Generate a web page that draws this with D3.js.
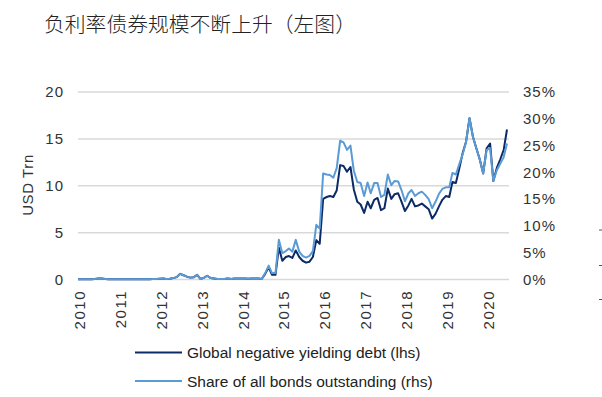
<!DOCTYPE html>
<html>
<head>
<meta charset="utf-8">
<script src="https://cdn.jsdelivr.net/npm/d3@7/dist/d3.min.js"></script>
<style>
  body { margin: 0; background: #fff; }
  svg { display: block; font-family: "Liberation Sans", Arial, sans-serif; }
</style>
</head>
<body>
<svg id="chart" width="602" height="397"></svg>
<script>
// monthly, Jan 2010 .. Jul 2020
const startMonth = new Date(2010, 0, 1);

// Global negative yielding debt, USD trn (lhs)
const debt = [
  0.02, 0.02, 0.02, 0.02, 0.03, 0.05, 0.12, 0.10, 0.05, 0.03, 0.03, 0.03,
  0.02, 0.02, 0.02, 0.02, 0.02, 0.02, 0.02, 0.02, 0.02, 0.03, 0.05, 0.06,
  0.08, 0.10, 0.05, 0.08, 0.15, 0.25, 0.60, 0.45, 0.30, 0.20, 0.25, 0.50,
  0.05, 0.20, 0.40, 0.15, 0.10, 0.05, 0.05, 0.05, 0.12, 0.05, 0.10, 0.10,
  0.10, 0.10, 0.08, 0.10, 0.10, 0.10, 0.05, 0.60, 1.30, 0.50, 0.50, 3.40,
  2.0, 2.4, 2.5, 2.3, 3.1, 2.4, 2.0, 1.8, 1.9, 2.4, 4.2, 3.8,
  8.6, 8.8, 8.9, 8.8, 9.5, 12.2, 12.1, 11.5, 12.0, 9.6, 8.3, 8.0,
  7.1, 8.3, 7.6, 8.5, 8.7, 7.4, 7.6, 9.7, 8.6, 9.1, 9.2, 8.3,
  7.3, 7.9, 8.6, 7.8, 7.9, 8.1, 7.8, 7.5, 6.5, 7.0, 7.8, 8.5,
  8.9, 8.8, 10.4, 10.3, 11.8, 13.5, 14.7, 17.2, 15.2, 14.0, 12.8, 11.3,
  14.0, 14.5, 10.5, 11.9, 12.8, 13.8, 16.0
];

// Share of all bonds outstanding, % (rhs)
const share = [
  0.04, 0.04, 0.04, 0.04, 0.05, 0.09, 0.21, 0.18, 0.09, 0.05, 0.05, 0.05,
  0.04, 0.04, 0.04, 0.04, 0.04, 0.04, 0.04, 0.04, 0.04, 0.05, 0.09, 0.10,
  0.14, 0.18, 0.09, 0.14, 0.26, 0.44, 1.05, 0.79, 0.53, 0.35, 0.44, 0.88,
  0.09, 0.35, 0.70, 0.26, 0.18, 0.09, 0.09, 0.09, 0.21, 0.09, 0.18, 0.18,
  0.18, 0.18, 0.14, 0.18, 0.18, 0.18, 0.10, 1.20, 2.60, 1.20, 1.20, 7.40,
  4.9, 5.3, 5.8, 5.2, 7.4, 5.2, 4.4, 4.1, 4.4, 5.3, 10.2, 9.5,
  19.8, 19.6, 19.5, 19.0, 20.8, 25.9, 25.6, 24.2, 25.0, 20.3, 18.2, 18.0,
  15.6, 18.1, 16.1, 18.0, 18.0, 15.4, 15.8, 19.6, 17.6, 18.4, 18.3, 16.7,
  14.6, 16.1, 16.7, 15.6, 16.1, 16.4, 15.8, 15.0, 13.3, 14.5, 16.0, 16.9,
  17.2, 17.2, 19.9, 19.6, 21.5, 23.4, 25.7, 30.1, 26.6, 24.5, 22.4, 19.8,
  24.2, 24.5, 18.4, 20.4, 21.6, 22.8, 25.4
];

const years = [2010, 2011, 2012, 2013, 2014, 2015, 2016, 2017, 2018, 2019, 2020];
const lhsTicks = [0, 5, 10, 15, 20];
const rhsTicks = [0, 5, 10, 15, 20, 25, 30, 35];

const title = "负利率债券规模不断上升（左图）";
const seriesNames = ["Global negative yielding debt (lhs)", "Share of all bonds outstanding (rhs)"];
const colors = ["#0b2a66", "#5b9bd5"];

const svg = d3.select("#chart");
const plotLeft = 78, plotRight = 507, plotTop = 92, plotBottom = 279.5;

const dates = debt.map((d, i) => d3.timeMonth.offset(startMonth, i));
const x = d3.scaleTime().domain([dates[0], dates[dates.length - 1]]).range([plotLeft, plotRight]);
const yL = d3.scaleLinear().domain([0, 20]).range([plotBottom, plotTop]);
const yR = d3.scaleLinear().domain([0, 35]).range([plotBottom, plotTop]);

// title
svg.append("text")
  .attr("x", 44).attr("y", 32)
  .attr("font-family", "'Noto Sans CJK SC', sans-serif")
  .attr("font-weight", 300)
  .attr("font-size", 20.8)
  .attr("fill", "#222")
  .text(title);

// gridlines
svg.append("g").selectAll("line")
  .data(lhsTicks).enter().append("line")
  .attr("x1", plotLeft).attr("x2", 509)
  .attr("y1", d => yL(d)).attr("y2", d => yL(d))
  .attr("stroke", "#d9d9d9").attr("stroke-width", 1.5);

// left axis
const gl = svg.append("g")
  .attr("transform", "translate(64,0)")
  .call(d3.axisLeft(yL).tickValues(lhsTicks).tickSize(0).tickPadding(0));
gl.select(".domain").remove();
gl.selectAll("text").attr("font-size", 15).attr("letter-spacing", 1)
  .attr("fill", "#333").attr("font-family", "'Liberation Sans', Arial, sans-serif");

svg.append("text")
  .attr("transform", "translate(32.5,185) rotate(-90)")
  .attr("text-anchor", "middle")
  .attr("font-size", 15).attr("letter-spacing", 0.6).attr("fill", "#333")
  .text("USD Trn");

// right axis
const gr = svg.append("g")
  .attr("transform", "translate(523,0)")
  .call(d3.axisRight(yR).tickValues(rhsTicks).tickSize(0).tickPadding(0).tickFormat(d => d + "%"));
gr.select(".domain").remove();
gr.selectAll("text").attr("font-size", 15).attr("letter-spacing", 1)
  .attr("fill", "#333").attr("font-family", "'Liberation Sans', Arial, sans-serif");

// x axis labels (rotated)
svg.append("g").selectAll("text")
  .data(years).enter().append("text")
  .attr("transform", d => "translate(" + x(new Date(d, 0, 16)) + ",290) rotate(-90)")
  .attr("text-anchor", "end")
  .attr("dominant-baseline", "central")
  .attr("font-size", 15).attr("letter-spacing", 1.5).attr("fill", "#333")
  .text(d => d);

// lines
const lineL = d3.line().x((d, i) => x(dates[i])).y(d => yL(d));
const lineR = d3.line().x((d, i) => x(dates[i])).y(d => yR(d));

svg.append("path").datum(debt)
  .attr("d", lineL).attr("fill", "none")
  .attr("stroke", colors[0]).attr("stroke-width", 2).attr("stroke-linejoin", "round");
svg.append("path").datum(share)
  .attr("d", lineR).attr("fill", "none")
  .attr("stroke", colors[1]).attr("stroke-width", 2).attr("stroke-linejoin", "round");

// legend
const lg = svg.append("g").selectAll("g")
  .data(seriesNames).enter().append("g")
  .attr("transform", (d, i) => "translate(135," + (352.5 + i * 28.5) + ")");
lg.append("line").attr("x1", 0).attr("x2", 47)
  .attr("stroke", (d, i) => colors[i]).attr("stroke-width", 2);
lg.append("text").attr("x", 52).attr("y", 0)
  .attr("dominant-baseline", "central")
  .attr("font-size", 15.5).attr("fill", "#222")
  .text(d => d);

// stray tick marks at right edge
svg.append("g").selectAll("line")
  .data([230, 265.5, 299.5]).enter().append("line")
  .attr("x1", 599).attr("x2", 602)
  .attr("y1", d => d).attr("y2", d => d)
  .attr("stroke", "#555").attr("stroke-width", 1);
</script>
</body>
</html>
